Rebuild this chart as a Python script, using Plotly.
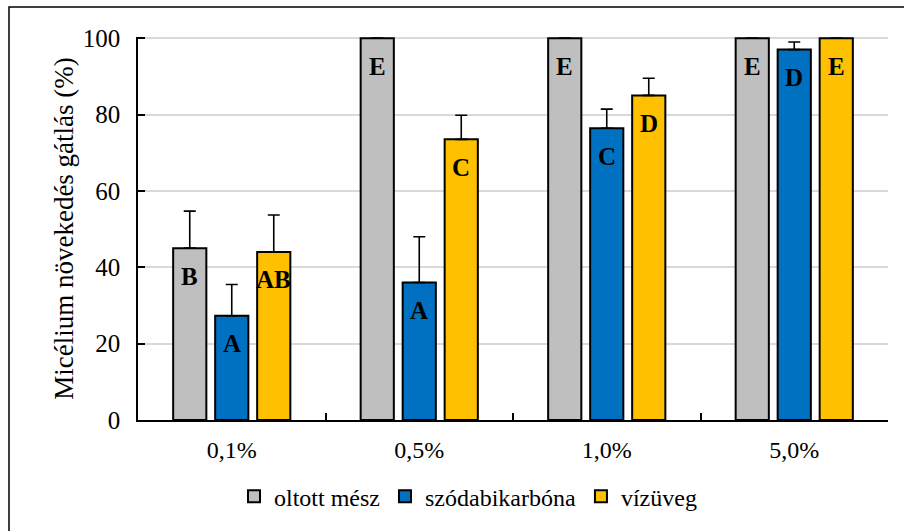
import plotly.graph_objects as go

categories = ["0,1%", "0,5%", "1,0%", "5,0%"]
series_names = ["oltott mész", "szódabikarbóna", "vízüveg"]
oltott_mesz = [45, 100, 100, 100]
szodabikarbona = [27.3, 36, 76.4, 97.0]
vizuveg = [44.0, 73.5, 85.0, 100]
err_oltott = [9.7, 0, 0, 0]
err_szoda = [8.2, 12, 5.0, 2.0]
err_viz = [9.7, 6.3, 4.5, 0]
letters_oltott = ["B", "E", "E", "E"]
letters_szoda = ["A", "A", "C", "D"]
letters_viz = ["AB", "C", "D", "E"]
y_ticks = [0, 20, 40, 60, 80, 100]

colors = ["#BFBFBF", "#0070C0", "#FFC000"]
values = [oltott_mesz, szodabikarbona, vizuveg]
errors = [err_oltott, err_szoda, err_viz]
letters = [letters_oltott, letters_szoda, letters_viz]

FONT = "Liberation Serif, Times New Roman, serif"

fig = go.Figure()
for name, vals, errs, col in zip(series_names, values, errors, colors):
    fig.add_trace(go.Bar(
        name=name, x=categories, y=vals,
        marker=dict(color=col, line=dict(color="#000000", width=2)),
        error_y=dict(type="data", array=errs, arrayminus=[0] * len(errs),
                     symmetric=False, color="#000000", thickness=1.6, width=6),
    ))

offsets = [-42, 0, 42]
annotations = []
for vals, labs, off in zip(values, letters, offsets):
    for c, v, t in zip(categories, vals, labs):
        annotations.append(dict(
            x=c, y=v, xref="x", yref="y", text="<b>%s</b>" % t, showarrow=False,
            xshift=off, yshift=-28, yanchor="middle", xanchor="center",
            font=dict(family=FONT, size=25, color="#000000"),
        ))

fig.update_layout(
    width=904, height=531,
    margin=dict(l=138, r=16, t=37, b=111, autoexpand=False),
    paper_bgcolor="white", plot_bgcolor="white",
    barmode="group", bargap=0.328, bargroupgap=0.21,
    font=dict(family=FONT, size=24, color="#000000"),
    showlegend=True,
    legend=dict(orientation="h", x=0.44, xanchor="center", y=-0.2, yanchor="middle",
                font=dict(family=FONT, size=24, color="#000000"),
                traceorder="normal", itemsizing="constant"),
    annotations=annotations,
    shapes=[dict(type="rect", xref="paper", yref="paper",
                 x0=-0.172, x1=1.2, y0=-0.5, y1=1.0783,
                 line=dict(color="#000000", width=1.5), layer="below")],
)
fig.update_yaxes(
    automargin=False,
    range=[0, 100.3], tickvals=y_ticks, ticks="inside", ticklen=7, tickwidth=1.5,
    tickcolor="#000000", showline=True, linecolor="#000000", linewidth=1.5,
    showgrid=True, gridcolor="#D9D9D9", gridwidth=1.5, zeroline=False,
    ticklabelstandoff=11,
    title=dict(text="Micélium növekedés gátlás (%)", standoff=1,
               font=dict(family=FONT, size=27)),
    tickfont=dict(family=FONT, size=25),
)
fig.update_xaxes(
    automargin=False,
    ticks="inside", tickson="boundaries", ticklen=7, tickwidth=1.5, tickcolor="#000000",
    showline=True, linecolor="#000000", linewidth=2, ticklabelstandoff=7,
    tickfont=dict(family=FONT, size=24),
)

fig.write_html("out.html", config={"displayModeBar": False},
               post_script="document.body.style.margin='0';")
